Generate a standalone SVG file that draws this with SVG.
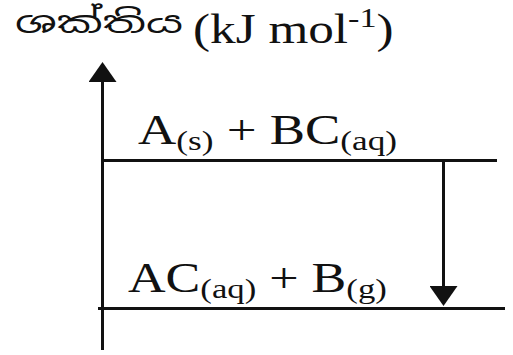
<svg xmlns="http://www.w3.org/2000/svg" width="513" height="355" viewBox="0 0 513 355">
<style>
.ln{stroke:#111;stroke-width:3;fill:none}
.t{font-family:"Liberation Serif","Times New Roman",serif;fill:#111}
.si{font-family:"Noto Sans Sinhala","Noto Serif Sinhala","Iskoola Pota","Liberation Serif",serif;fill:#111}
</style>
<defs>
<marker id="ah" viewBox="0 0 20 28" refX="16" refY="14" markerWidth="20" markerHeight="28" markerUnits="userSpaceOnUse" orient="auto">
<path d="M0,0 L20,14 L0,28 Z" fill="#111"/>
</marker>
</defs>
<rect width="513" height="355" fill="#fff"/>
<g id="axis">
<line class="ln" x1="102.5" y1="350" x2="102.5" y2="66" marker-end="url(#ah)"/>
<text class="si" x="15" y="33" font-size="30" textLength="168" lengthAdjust="spacingAndGlyphs">ශක්තිය</text>
<text class="t" transform="translate(193,43) scale(1.22,1)" font-size="42">(kJ mol<tspan font-size="28" dy="-16">-1</tspan><tspan dy="16">)</tspan></text>
</g>
<g id="level-reactants">
<line class="ln" x1="101" y1="160.5" x2="497" y2="160.5"/>
<text class="t" transform="translate(138,144) scale(1.26,1)" font-size="42">A<tspan font-size="28" dy="6">(s)</tspan><tspan dy="-6"> + BC</tspan><tspan font-size="28" dy="6">(aq)</tspan></text>
</g>
<g id="level-products">
<line class="ln" x1="98" y1="308.5" x2="505" y2="308.5"/>
<text class="t" transform="translate(128,292) scale(1.24,1)" font-size="42">AC<tspan font-size="28" dy="6">(aq)</tspan><tspan dy="-6"> + B</tspan><tspan font-size="28" dy="6">(g)</tspan></text>
</g>
<g id="connectors">
<line class="ln" x1="443.5" y1="160" x2="443.5" y2="302" marker-end="url(#ah)"/>
</g>
</svg>
